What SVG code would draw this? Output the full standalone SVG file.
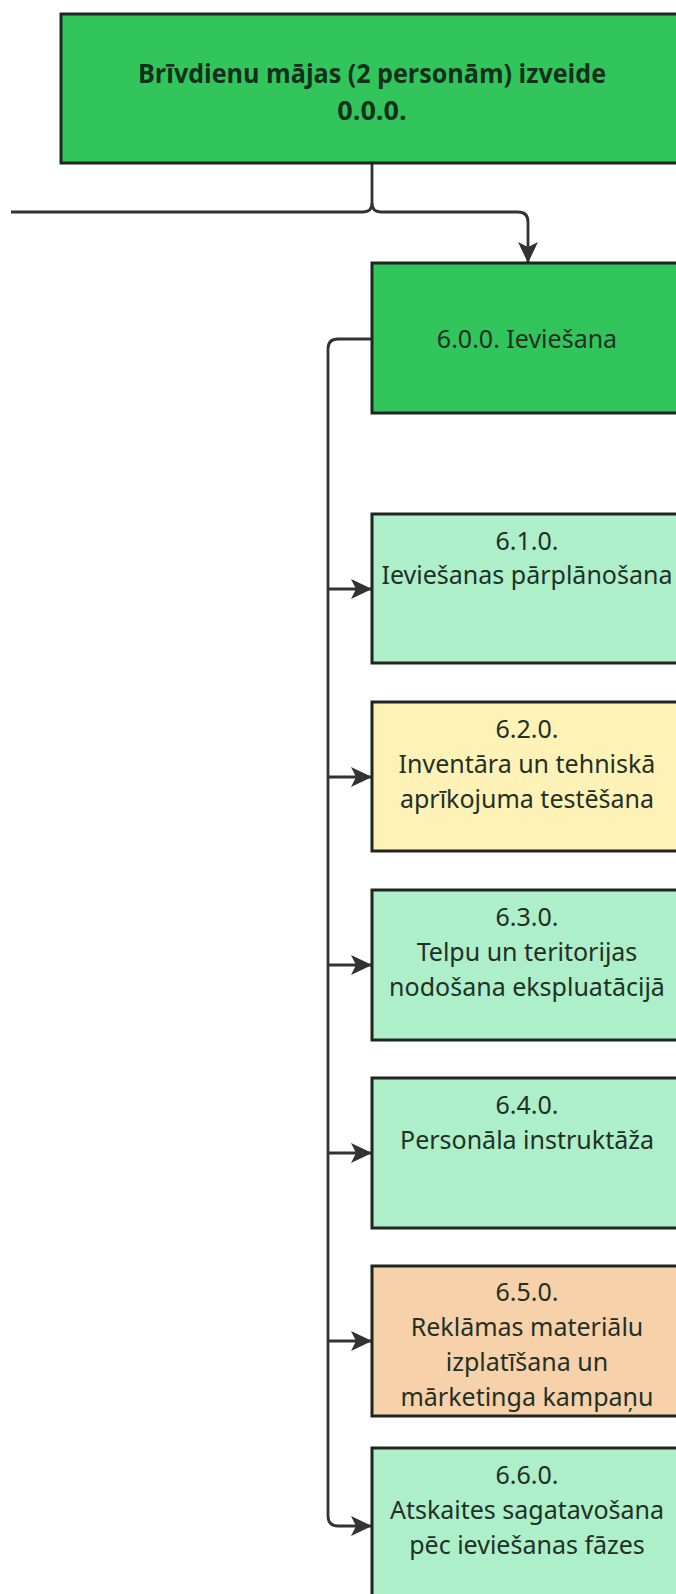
<svg xmlns="http://www.w3.org/2000/svg" width="676" height="1594" viewBox="0 0 676 1594">
  <defs>
    <marker id="arrow" viewBox="0 0 21 22" refX="20" refY="11" markerWidth="21" markerHeight="22" markerUnits="userSpaceOnUse" orient="auto">
      <path d="M0,1 L21,11 L0,21 L5,11 Z" fill="#333333"/>
    </marker>
  </defs>
  <style>
    .box { stroke: #1f2621; stroke-width: 3; }
    .dark { fill: #31c55c; }
    .light { fill: #acefc8; }
    .yellow { fill: #fef2b6; }
    .peach { fill: #f6d1aa; }
    .title { font-family: "Open Sans", "Noto Sans", sans-serif; font-weight: bold; font-size: 27px; fill: #12301b; text-anchor: middle; }
    .label { font-family: "Noto Sans", "Open Sans", sans-serif; font-size: 25px; fill: #233026; text-anchor: middle; }
    .conn { fill: none; stroke: #333333; stroke-width: 2.8; }
  </style>
  <rect width="676" height="1594" fill="#ffffff"/>

  <g id="connectors">
    <path class="conn" d="M372,164 V203 Q372,212 363,212 H11"/>
    <path class="conn" d="M372,203 Q372,212 381,212 H518 Q528,212 528,222 V262" marker-end="url(#arrow)"/>
    <path class="conn" d="M372,339 H338 Q328,339 328,349 V1516 Q328,1526 338,1526 H371" marker-end="url(#arrow)"/>
    <path class="conn" d="M328,589 H371" marker-end="url(#arrow)"/>
    <path class="conn" d="M328,777 H371" marker-end="url(#arrow)"/>
    <path class="conn" d="M328,965 H371" marker-end="url(#arrow)"/>
    <path class="conn" d="M328,1153 H371" marker-end="url(#arrow)"/>
    <path class="conn" d="M328,1341 H371" marker-end="url(#arrow)"/>
  </g>

  <g id="node-0-0-0">
    <rect class="box dark" x="61" y="14" width="622" height="149"/>
    <text class="title" x="372" y="83" textLength="468" lengthAdjust="spacingAndGlyphs">Brīvdienu mājas (2 personām) izveide</text>
    <text class="title" x="372" y="120">0.0.0.</text>
  </g>

  <g id="node-6-0-0">
    <rect class="box dark" x="372" y="263" width="310" height="150"/>
    <text class="label" x="527" y="348">6.0.0. Ieviešana</text>
  </g>

  <g id="node-6-1-0">
    <rect class="box light" x="372" y="514" width="310" height="149"/>
    <text class="label" x="527" y="550">6.1.0.</text>
    <text class="label" x="527" y="584">Ieviešanas pārplānošana</text>
  </g>

  <g id="node-6-2-0">
    <rect class="box yellow" x="372" y="702" width="310" height="149"/>
    <text class="label" x="527" y="738">6.2.0.</text>
    <text class="label" x="527" y="773">Inventāra un tehniskā</text>
    <text class="label" x="527" y="808">aprīkojuma testēšana</text>
  </g>

  <g id="node-6-3-0">
    <rect class="box light" x="372" y="890" width="310" height="150"/>
    <text class="label" x="527" y="926">6.3.0.</text>
    <text class="label" x="527" y="961">Telpu un teritorijas</text>
    <text class="label" x="527" y="996">nodošana ekspluatācijā</text>
  </g>

  <g id="node-6-4-0">
    <rect class="box light" x="372" y="1078" width="310" height="150"/>
    <text class="label" x="527" y="1114">6.4.0.</text>
    <text class="label" x="527" y="1149">Personāla instruktāža</text>
  </g>

  <g id="node-6-5-0">
    <rect class="box peach" x="372" y="1266" width="310" height="150"/>
    <text class="label" x="527" y="1301">6.5.0.</text>
    <text class="label" x="527" y="1336">Reklāmas materiālu</text>
    <text class="label" x="527" y="1371">izplatīšana un</text>
    <text class="label" x="527" y="1406">mārketinga kampaņu</text>
  </g>

  <g id="node-6-6-0">
    <rect class="box light" x="372" y="1448" width="310" height="160"/>
    <text class="label" x="527" y="1484">6.6.0.</text>
    <text class="label" x="527" y="1519">Atskaites sagatavošana</text>
    <text class="label" x="527" y="1554">pēc ieviešanas fāzes</text>
  </g>
</svg>
